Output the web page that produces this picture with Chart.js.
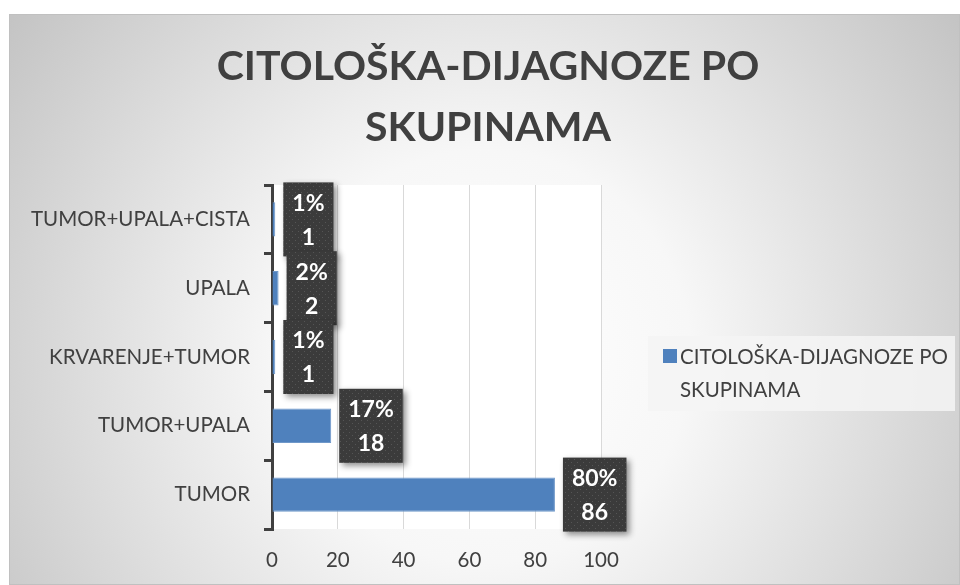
<!DOCTYPE html>
<html>
<head>
<meta charset="utf-8">
<script src="https://cdn.jsdelivr.net/npm/chart.js@4.4.0/dist/chart.umd.min.js"></script>
<style>
  html, body { margin: 0; padding: 0; background: #ffffff; }
  #wrap { position: absolute; left: 9px; top: 14px; width: 951px; height: 571px; }
</style>
</head>
<body>
<div id="wrap"><canvas id="chart"></canvas></div>
<script>
// Chart data (top to bottom, as in the picture)
const categories = ['TUMOR+UPALA+CISTA', 'UPALA', 'KRVARENJE+TUMOR', 'TUMOR+UPALA', 'TUMOR'];
const counts = [1, 2, 1, 18, 86];
const seriesName = 'CITOLOŠKA-DIJAGNOZE PO SKUPINAMA';
const titleLines = ['CITOLOŠKA-DIJAGNOZE PO', 'SKUPINAMA'];
const legendLines = ['CITOLOŠKA-DIJAGNOZE PO', 'SKUPINAMA'];
const xTicks = [0, 20, 40, 60, 80, 100];

const FONT = 'Lato, "Open Sans", sans-serif';
const TEXT = '#404040';
const BAR = '#4f81bd';

const total = counts.reduce((a, b) => a + b, 0);

// dotted dark fill for the data label boxes
function makePattern(ctx) {
  const p = document.createElement('canvas');
  p.width = 6; p.height = 6;
  const pc = p.getContext('2d');
  pc.fillStyle = '#3b3b3b';
  pc.fillRect(0, 0, 6, 6);
  pc.fillStyle = '#555555';
  pc.fillRect(1, 1, 1, 1);
  pc.fillRect(4, 4, 1, 1);
  return ctx.createPattern(p, 'repeat');
}

const backgroundPlugin = {
  id: 'background',
  beforeDraw(chart) {
    const { ctx, width, height, chartArea } = chart;
    ctx.save();
    const g = ctx.createRadialGradient(width * 0.5, height * 0.6, 0, width * 0.5, height * 0.6, width * 0.62);
    g.addColorStop(0, '#ffffff');
    g.addColorStop(0.35, '#f7f7f7');
    g.addColorStop(1, '#c3c3c3');
    ctx.fillStyle = g;
    ctx.fillRect(0, 0, width, height);
    ctx.strokeStyle = '#c0c0c0';
    ctx.lineWidth = 1;
    ctx.strokeRect(0.5, 0.5, width - 1, height - 1);
    ctx.fillStyle = '#ffffff';
    ctx.fillRect(chartArea.left, chartArea.top, chartArea.right - chartArea.left, chartArea.bottom - chartArea.top);
    ctx.restore();
  }
};

const titlePlugin = {
  id: 'bigTitle',
  afterDraw(chart) {
    const { ctx } = chart;
    ctx.save();
    ctx.fillStyle = TEXT;
    ctx.font = 'bold 41px ' + FONT;
    ctx.textAlign = 'center';
    ctx.textBaseline = 'middle';
    ctx.fillText(titleLines[0], 479, 53);
    ctx.fillText(titleLines[1], 479, 114);
    ctx.restore();
  }
};

const labelPlugin = {
  id: 'boxLabels',
  afterDatasetsDraw(chart) {
    const { ctx } = chart;
    const meta = chart.getDatasetMeta(0);
    const pattern = makePattern(ctx);
    ctx.save();
    ctx.font = 'bold 23px ' + FONT;
    meta.data.forEach((bar, i) => {
      const pct = Math.round(counts[i] / total * 100) + '%';
      const val = String(counts[i]);
      const tw = Math.max(ctx.measureText(pct).width, ctx.measureText(val).width);
      const w = tw + 18;
      const h = 74;
      const x = bar.x + 8;
      const y = bar.y - h / 2;
      ctx.save();
      ctx.shadowColor = 'rgba(0,0,0,0.45)';
      ctx.shadowBlur = 6;
      ctx.shadowOffsetX = 3;
      ctx.shadowOffsetY = 3;
      ctx.fillStyle = pattern;
      ctx.fillRect(x, y, w, h);
      ctx.restore();
      ctx.fillStyle = '#ffffff';
      ctx.textAlign = 'center';
      ctx.textBaseline = 'middle';
      ctx.fillText(pct, x + w / 2, bar.y - 16);
      ctx.fillText(val, x + w / 2, bar.y + 18);
    });
    ctx.restore();
  }
};

const legendPlugin = {
  id: 'sideLegend',
  afterDraw(chart) {
    const { ctx } = chart;
    ctx.save();
    ctx.fillStyle = 'rgba(245,245,245,0.85)';
    ctx.fillRect(639, 322, 307, 75);
    ctx.fillStyle = BAR;
    ctx.fillRect(654, 335, 14, 14);
    ctx.fillStyle = TEXT;
    ctx.font = '20.5px ' + FONT;
    ctx.textAlign = 'left';
    ctx.textBaseline = 'middle';
    ctx.fillText(legendLines[0], 671, 343);
    ctx.fillText(legendLines[1], 671, 376);
    ctx.restore();
  }
};

new Chart(document.getElementById('chart'), {
  type: 'bar',
  data: {
    labels: categories,
    datasets: [{
      label: seriesName,
      data: counts,
      backgroundColor: BAR,
      borderColor: '#6f98c9',
      borderWidth: 1,
      categoryPercentage: 1,
      barPercentage: 0.5
    }]
  },
  options: {
    indexAxis: 'y',
    responsive: true,
    maintainAspectRatio: false,
    animation: false,
    layout: { padding: { top: 171, right: 359, left: 0, bottom: 0 } },
    plugins: {
      legend: { display: false },
      title: { display: false },
      tooltip: { enabled: false }
    },
    scales: {
      x: {
        min: 0,
        max: 100,
        afterFit(scale) { scale.height = 56; },
        afterBuildTicks(scale) { scale.ticks = xTicks.map(v => ({ value: v })); },
        grid: { color: '#d9d9d9', lineWidth: 1, drawTicks: false },
        border: { display: false },
        ticks: { color: TEXT, font: { family: FONT, size: 20.5 }, padding: 19 }
      },
      y: {
        afterFit(scale) { scale.width = 263; },
        grid: { drawOnChartArea: false, drawTicks: true, tickLength: 8, color: TEXT, lineWidth: 3 },
        border: { display: true, color: TEXT, width: 3 },
        ticks: { color: TEXT, font: { family: FONT, size: 20.5 }, padding: 14 }
      }
    }
  },
  plugins: [backgroundPlugin, labelPlugin, titlePlugin, legendPlugin]
});
</script>
</body>
</html>
